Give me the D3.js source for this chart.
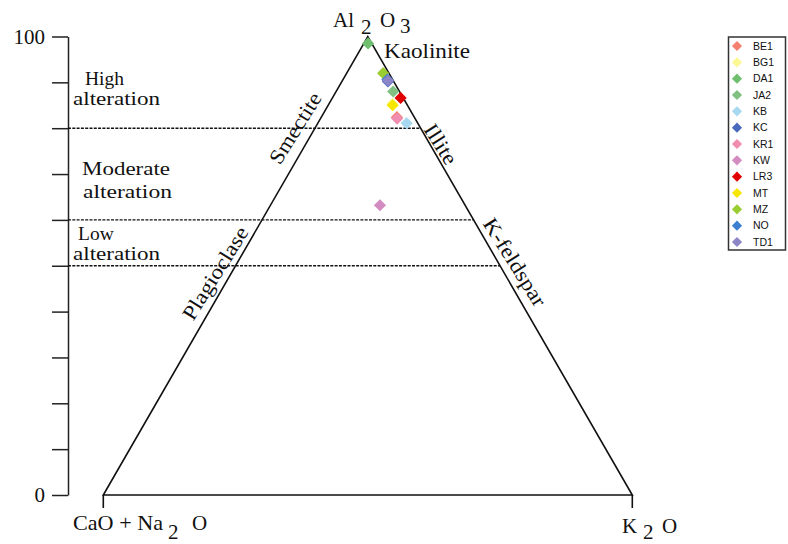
<!DOCTYPE html>
<html>
<head>
<meta charset="utf-8">
<script src="https://cdn.jsdelivr.net/npm/d3@7"></script>
<style>
body { margin: 0; background: #fff; }
</style>
</head>
<body>
<script>
width = 788;
height = 544;

// samples, in legend order
var samples = ["BE1","BG1","DA1","JA2","KB","KC","KR1","KW","LR3","MT","MZ","NO","TD1"];
var colors  = ["#f4806f","#fbf894","#6fbf6f","#80c080","#a8d8ef","#4a6bbd","#f08db0","#d28cc0","#e00000","#f7e600","#9acd32","#3b7fd0","#8c85c8"];
// Al2O3 and K2O (%), CaO+Na2O is the rest
var al2o3 = [82.4, 85.3, 98.5, 88.0, 81.1, 90.2, 82.1, 63.2, 86.6, 85.0, 92.0, 90.6, 90.4];
var k2o   = [14.3, 12.0,  0.8, 10.8, 16.8,  8.7, 14.5, 20.7, 12.9, 12.2,  6.9,  8.4,  8.6];

var axisTicks = [0,10,20,30,40,50,60,70,80,90,100];
var axisLabels = [0,100];
var zones = [80,60,50];

var serif = "'Liberation Serif', 'Times New Roman', serif";

var y = d3.scaleLinear().domain([0,100]).range([495,36.5]);
var xb = d3.scaleLinear().domain([0,100]).range([103.3,632.3]);
// ternary -> screen
var tx = (a,k) => xb(k + a/2);

var svg = d3.select("body").append("svg")
    .attr("width",width)
    .attr("height",height)
    .style("font-family",serif);

// left axis
svg.append("g")
    .attr("transform","translate(68,0)")
    .call(d3.axisLeft(y).tickValues(axisTicks).tickSize(16).tickSizeOuter(0).tickPadding(7)
        .tickFormat(d => axisLabels.indexOf(d) >= 0 ? d : ""))
    .call(g => g.selectAll("line,path").attr("stroke","#222").attr("stroke-width",1.5))
    .call(g => g.selectAll("text").style("font-family",serif).style("font-size","21px").attr("fill","#111"));

// alteration limits
svg.append("g").selectAll("line")
    .data(zones)
    .join("line")
    .attr("x1",68)
    .attr("x2",d => tx(d,100-d))
    .attr("y1",d => y(d))
    .attr("y2",d => y(d))
    .attr("stroke","#111")
    .attr("stroke-width",1.4)
    .attr("stroke-dasharray","3,1.3");

// triangle
var corners = [[0,0],[100,0],[0,100]]; // [al2o3, k2o]
svg.append("path")
    .attr("d","M"+corners.map(c => tx(c[0],c[1])+","+y(c[0])).join("L")+"Z")
    .attr("fill","none")
    .attr("stroke","#111")
    .attr("stroke-width",1.6);
svg.append("g").selectAll("line")
    .data([[0,100],[0,0]])
    .join("line")
    .attr("x1",d => tx(d[0],d[1]))
    .attr("x2",d => tx(d[0],d[1]))
    .attr("y1",y(0))
    .attr("y2",y(0)+13)
    .attr("stroke","#111")
    .attr("stroke-width",1.6);

// zone labels
var zoneText = [
    ["High",85,85,null],["alteration",73,105,87],
    ["Moderate",82,175,88],["alteration",83,198,89],
    ["Low",78,240,null],["alteration",73,260,87]
];
svg.append("g").selectAll("text")
    .data(zoneText)
    .join("text")
    .attr("x",d => d[1])
    .attr("y",d => d[2])
    .attr("font-size",19.5)
    .attr("fill","#111")
    .each(function(d){ if(d[3]) d3.select(this).attr("textLength",d[3]).attr("lengthAdjust","spacingAndGlyphs"); })
    .text(d => d[0]);

// edge labels
var edgeText = [
    ["Smectite",295,128,-58,80],
    ["Plagioclase",215,273,-58,106],
    ["Illite",441,144,58,44],
    ["K-feldspar",515,262,58,100]
];
svg.append("g").selectAll("text")
    .data(edgeText)
    .join("text")
    .attr("transform",d => "translate("+d[1]+","+d[2]+") rotate("+d[3]+")")
    .attr("text-anchor","middle")
    .attr("dy","0.35em")
    .attr("font-size",21)
    .attr("fill","#111")
    .attr("textLength",d => d[4])
    .attr("lengthAdjust","spacingAndGlyphs")
    .text(d => d[0]);

// corner labels: [text, x, baseline]
var cornerText = [
    ["Al",333,26.7],["2",361,33.5],["O",380,26.7],["3",400,33],
    ["CaO + Na",73,530],["2",168,538.5],["O",192,530],
    ["K",622,533],["2",643,538.5],["O",662,533],
    ["Kaolinite",384,58]
];
svg.append("g").selectAll("text")
    .data(cornerText)
    .join("text")
    .attr("x",d => d[1])
    .attr("y",d => d[2])
    .attr("font-size",21)
    .attr("fill","#111")
    .each(function(d){
        if(d[0]=="CaO + Na") d3.select(this).attr("textLength",90).attr("lengthAdjust","spacingAndGlyphs");
        if(d[0]=="Kaolinite") d3.select(this).attr("textLength",86).attr("lengthAdjust","spacingAndGlyphs");
    })
    .text(d => d[0]);

// samples
var diamond = d3.symbol(d3.symbolSquare,74);
svg.append("g").selectAll("path")
    .data(samples)
    .join("path")
    .attr("d",diamond)
    .attr("transform",(d,i) => "translate("+tx(al2o3[i],k2o[i])+","+y(al2o3[i])+") rotate(45)")
    .attr("fill",(d,i) => colors[i]);

// legend
var lg = svg.append("g").attr("class","legend");
lg.append("rect")
    .attr("x",728.5)
    .attr("y",37)
    .attr("width",57)
    .attr("height",213)
    .attr("fill","#fff")
    .attr("stroke","#333")
    .attr("stroke-width",1.5);
var ly = d3.scalePoint().domain(samples).range([46,242]);
lg.selectAll("path")
    .data(samples)
    .join("path")
    .attr("d",d3.symbol(d3.symbolSquare,52))
    .attr("transform",d => "translate(737,"+ly(d)+") rotate(45)")
    .attr("fill",(d,i) => colors[i]);
lg.selectAll("text")
    .data(samples)
    .join("text")
    .attr("x",753)
    .attr("y",d => ly(d))
    .attr("dy","0.35em")
    .style("font-family","'Liberation Sans', Arial, sans-serif")
    .style("font-size","10.5px")
    .attr("fill","#111")
    .text(d => d);
</script>
</body>
</html>
